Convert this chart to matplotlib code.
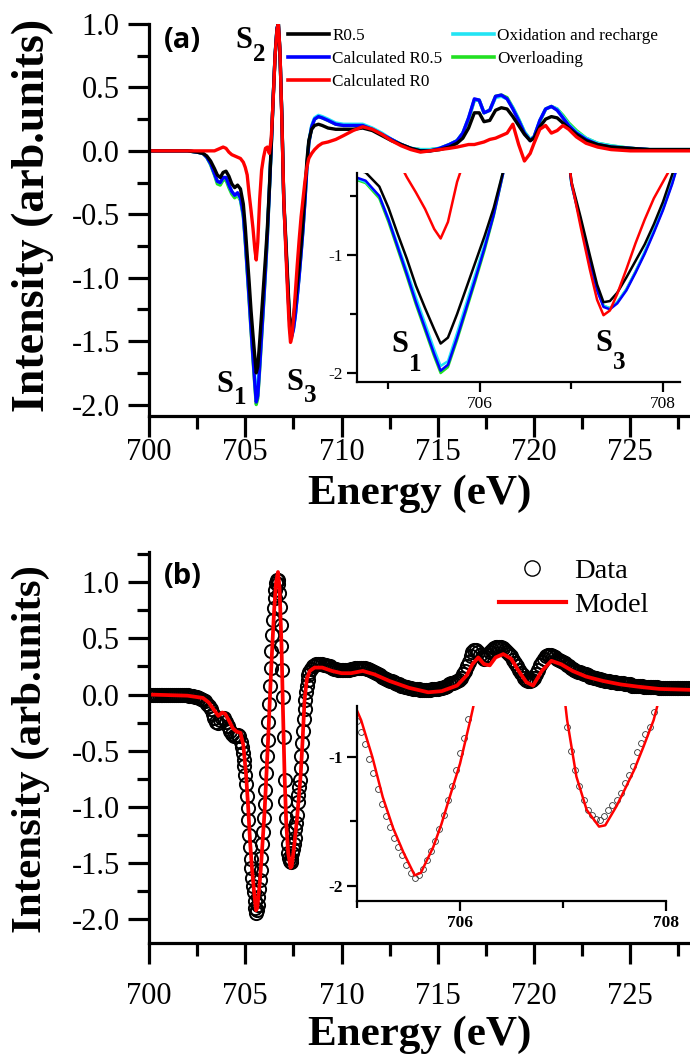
import matplotlib
matplotlib.use('Agg')
import matplotlib.pyplot as plt
from matplotlib.ticker import MultipleLocator, FormatStrFormatter
from matplotlib.lines import Line2D

plt.rcParams['font.family'] = ['Liberation Serif', 'DejaVu Serif']
plt.rcParams['axes.unicode_minus'] = False

# ---------------- Panel (a) data ----------------
energy_a = [700.0, 701.0, 702.0, 702.5, 702.8, 703.0, 703.2, 703.4, 703.55, 703.7,
            703.85, 704.0, 704.15, 704.3, 704.45, 704.6, 704.75, 704.9, 705.0, 705.1,
            705.2, 705.3, 705.4, 705.5, 705.57, 705.65, 705.75, 705.85, 705.95, 706.05,
            706.15, 706.25, 706.35, 706.45, 706.55, 706.65, 706.72, 706.8, 706.9, 707.0,
            707.1, 707.2, 707.28, 707.35, 707.42, 707.5, 707.6, 707.7, 707.8, 707.9,
            708.0, 708.1, 708.2, 708.3, 708.45, 708.6, 708.8, 709.0, 709.3, 709.7,
            710.1, 710.6, 711.1, 711.6, 712.1, 712.6, 713.1, 713.6, 714.1, 714.6,
            715.1, 715.6, 716.0, 716.3, 716.6, 716.9, 717.15, 717.4, 717.7, 718.0,
            718.3, 718.6, 718.9, 719.2, 719.5, 719.8, 720.0, 720.3, 720.6, 720.9,
            721.2, 721.5, 721.8, 722.2, 722.7, 723.3, 724.0, 725.0, 726.0, 727.0,
            728.5]

r05 = [0.00, 0.00, 0.00, -0.01, -0.02, -0.04, -0.08, -0.14, -0.19, -0.21,
       -0.17, -0.16, -0.20, -0.26, -0.29, -0.27, -0.30, -0.42, -0.60, -0.82,
       -1.03, -1.26, -1.45, -1.63, -1.75, -1.70, -1.50, -1.28, -1.06, -0.84,
       -0.60, -0.30, 0.05, 0.42, 0.75, 0.96, 1.00, 0.78, 0.28, -0.38,
       -0.68, -1.00, -1.25, -1.40, -1.39, -1.32, -1.19, -1.05, -0.91, -0.74,
       -0.55, -0.32, -0.08, 0.08, 0.17, 0.20, 0.21, 0.20, 0.18, 0.17,
       0.17, 0.17, 0.18, 0.16, 0.12, 0.08, 0.05, 0.02, 0.00, 0.00,
       0.01, 0.03, 0.06, 0.10, 0.18, 0.30, 0.30, 0.23, 0.24, 0.32,
       0.34, 0.33, 0.27, 0.20, 0.13, 0.08, 0.10, 0.19, 0.25, 0.27,
       0.26, 0.22, 0.18, 0.13, 0.08, 0.05, 0.03, 0.02, 0.01, 0.01,
       0.01]

calc_r05 = [0.00, 0.00, 0.00, -0.01, -0.02, -0.05, -0.10, -0.18, -0.24, -0.25,
            -0.21, -0.21, -0.27, -0.32, -0.35, -0.33, -0.37, -0.50, -0.70, -0.93,
            -1.16, -1.40, -1.62, -1.84, -1.98, -1.93, -1.70, -1.45, -1.20, -0.94,
            -0.66, -0.32, 0.03, 0.42, 0.76, 0.97, 1.00, 0.79, 0.27, -0.40,
            -0.72, -1.05, -1.30, -1.44, -1.46, -1.41, -1.30, -1.15, -0.99, -0.81,
            -0.62, -0.40, -0.14, 0.06, 0.19, 0.25, 0.27, 0.26, 0.24, 0.21,
            0.20, 0.20, 0.20, 0.17, 0.13, 0.09, 0.05, 0.02, 0.00, 0.00,
            0.02, 0.05, 0.08, 0.14, 0.26, 0.41, 0.40, 0.30, 0.32, 0.43,
            0.44, 0.41, 0.33, 0.24, 0.14, 0.08, 0.11, 0.24, 0.33, 0.35,
            0.32, 0.26, 0.20, 0.14, 0.09, 0.05, 0.03, 0.02, 0.01, 0.01,
            0.01]

calc_r0 = [0.00, 0.00, 0.00, 0.00, 0.00, 0.00, 0.00, 0.00, 0.01, 0.02,
           0.03, 0.02, -0.01, -0.03, -0.04, -0.05, -0.06, -0.09, -0.13, -0.19,
           -0.34, -0.47, -0.61, -0.78, -0.86, -0.72, -0.38, -0.15, -0.05, 0.02,
           0.03, -0.02, 0.10, 0.40, 0.75, 0.96, 1.00, 0.80, 0.25, -0.38,
           -0.76, -1.12, -1.38, -1.51, -1.47, -1.33, -1.12, -0.90, -0.70, -0.52,
           -0.38, -0.24, -0.13, -0.06, -0.02, 0.01, 0.04, 0.06, 0.07, 0.09,
           0.12, 0.16, 0.19, 0.17, 0.13, 0.08, 0.04, 0.01, -0.01, 0.00,
           0.01, 0.02, 0.03, 0.04, 0.05, 0.05, 0.06, 0.07, 0.09, 0.10,
           0.12, 0.14, 0.21, 0.05, -0.08, -0.02, 0.06, 0.17, 0.20, 0.14,
           0.16, 0.20, 0.17, 0.11, 0.06, 0.03, 0.01, 0.00, 0.00, 0.00,
           0.00]

oxidation = [0.00, 0.00, 0.00, -0.01, -0.02, -0.05, -0.10, -0.18, -0.24, -0.25,
             -0.21, -0.21, -0.27, -0.32, -0.35, -0.34, -0.38, -0.50, -0.69, -0.91,
             -1.13, -1.36, -1.58, -1.80, -1.94, -1.90, -1.66, -1.41, -1.16, -0.91,
             -0.63, -0.30, 0.04, 0.42, 0.76, 0.97, 1.00, 0.79, 0.27, -0.40,
             -0.72, -1.05, -1.29, -1.43, -1.45, -1.40, -1.29, -1.14, -0.97, -0.79,
             -0.60, -0.38, -0.12, 0.07, 0.20, 0.26, 0.28, 0.27, 0.25, 0.22,
             0.21, 0.21, 0.21, 0.18, 0.14, 0.09, 0.05, 0.02, 0.01, 0.01,
             0.02, 0.05, 0.08, 0.14, 0.26, 0.40, 0.40, 0.30, 0.32, 0.42,
             0.43, 0.41, 0.34, 0.25, 0.15, 0.09, 0.11, 0.24, 0.33, 0.35,
             0.33, 0.27, 0.21, 0.15, 0.10, 0.06, 0.04, 0.02, 0.01, 0.01,
             0.01]

overloading = [0.00, 0.00, 0.00, -0.01, -0.02, -0.05, -0.11, -0.19, -0.26, -0.27,
               -0.23, -0.23, -0.29, -0.34, -0.37, -0.35, -0.39, -0.52, -0.72, -0.95,
               -1.18, -1.42, -1.64, -1.86, -2.00, -1.95, -1.72, -1.47, -1.22, -0.96,
               -0.67, -0.32, 0.03, 0.42, 0.76, 0.97, 1.00, 0.79, 0.27, -0.40,
               -0.71, -1.04, -1.29, -1.43, -1.45, -1.40, -1.29, -1.14, -0.98, -0.80,
               -0.61, -0.39, -0.13, 0.06, 0.19, 0.25, 0.27, 0.26, 0.24, 0.21,
               0.20, 0.20, 0.20, 0.17, 0.13, 0.09, 0.05, 0.02, 0.01, 0.01,
               0.02, 0.05, 0.08, 0.14, 0.25, 0.40, 0.40, 0.30, 0.32, 0.43,
               0.44, 0.42, 0.34, 0.25, 0.15, 0.09, 0.11, 0.23, 0.33, 0.35,
               0.33, 0.28, 0.22, 0.16, 0.10, 0.06, 0.04, 0.02, 0.01, 0.01,
               0.01]

labels_a = ['R0.5', 'Calculated R0.5', 'Calculated R0',
            'Oxidation and recharge', 'Overloading']

# ---------------- Panel (b) data ----------------
model_energy = [700.0, 702.0, 702.8, 703.1, 703.35, 703.6, 703.8, 703.95, 704.15, 704.35,
                704.55, 704.75, 704.9, 705.04, 705.15, 705.25, 705.35, 705.45, 705.56, 705.62,
                705.74, 705.82, 705.9, 706.0, 706.1, 706.2, 706.3, 706.4, 706.5, 706.6,
                706.7, 706.78, 706.88, 706.96, 707.04, 707.13, 707.23, 707.35, 707.41, 707.52,
                707.6, 707.69, 707.78, 707.88, 707.98, 708.08, 708.2, 708.35, 708.6, 709.0,
                709.5, 710.0, 710.5, 711.1, 711.7, 712.5, 713.5, 714.5, 715.2, 716.0,
                716.5, 716.8, 717.1, 717.4, 717.7, 718.0, 718.4, 718.8, 719.2, 719.6,
                719.95, 720.4, 720.9, 721.4, 722.0, 722.7, 723.6, 724.5, 725.4, 726.5,
                728.5]
model_int = [0.00, -0.01, -0.03, -0.07, -0.13, -0.19, -0.16, -0.17, -0.23, -0.30,
             -0.33, -0.34, -0.45, -0.71, -1.00, -1.31, -1.55, -1.74, -1.92, -1.90,
             -1.70, -1.52, -1.31, -1.05, -0.71, -0.35, 0.05, 0.42, 0.75, 1.00,
             1.09, 0.95, 0.45, -0.15, -0.71, -1.15, -1.41, -1.54, -1.53, -1.38,
             -1.25, -1.10, -0.92, -0.71, -0.40, -0.05, 0.14, 0.21, 0.24, 0.24,
             0.21, 0.19, 0.19, 0.21, 0.18, 0.12, 0.06, 0.02, 0.03, 0.08,
             0.17, 0.27, 0.33, 0.27, 0.26, 0.33, 0.36, 0.32, 0.21, 0.11,
             0.08, 0.21, 0.30, 0.27, 0.21, 0.16, 0.12, 0.09, 0.07, 0.05,
             0.04]

data_energy_pre = [700.0, 700.1, 700.2, 700.3, 700.4, 700.5, 700.6, 700.7, 700.8, 700.9,
                   701.0, 701.1, 701.2, 701.3, 701.4, 701.5, 701.6, 701.7, 701.8, 701.9,
                   702.0, 702.1, 702.2, 702.3, 702.4, 702.5, 702.6, 702.7, 702.8, 702.9,
                   703.0, 703.1, 703.2, 703.3, 703.4, 703.5, 703.6, 703.7, 703.8, 703.9,
                   704.0, 704.1, 704.2, 704.3, 704.4, 704.5, 704.6, 704.7, 704.8]
data_int_pre = [0.00, 0.00, 0.00, 0.00, 0.00, 0.00, 0.00, 0.00, 0.00, 0.00,
                0.00, 0.00, 0.00, 0.00, 0.00, 0.00, 0.00, 0.00, 0.00, 0.00,
                0.00, -0.01, -0.01, -0.01, -0.02, -0.02, -0.03, -0.04, -0.05, -0.06,
                -0.08, -0.10, -0.13, -0.17, -0.21, -0.24, -0.25, -0.23, -0.21, -0.21,
                -0.24, -0.28, -0.32, -0.35, -0.37, -0.37, -0.36, -0.37, -0.42]

data_energy_edge = [704.84, 704.88, 704.92, 704.96, 705.00, 705.04, 705.08, 705.12, 705.16, 705.20,
                    705.24, 705.28, 705.32, 705.36, 705.40, 705.44, 705.48, 705.52, 705.56, 705.60,
                    705.64, 705.68, 705.72, 705.76, 705.80, 705.84, 705.88, 705.92, 705.96, 706.00,
                    706.04, 706.08, 706.12, 706.16, 706.20, 706.24, 706.28, 706.32, 706.36, 706.40,
                    706.44, 706.48, 706.52, 706.56, 706.60, 706.64, 706.68, 706.72, 706.76, 706.80,
                    706.84, 706.88, 706.92, 706.96, 707.00, 707.04, 707.08, 707.12, 707.16, 707.20,
                    707.24, 707.28, 707.32, 707.36, 707.40, 707.44, 707.48, 707.52, 707.56, 707.60,
                    707.64, 707.68, 707.72, 707.76, 707.80, 707.84, 707.88, 707.92, 707.96, 708.00,
                    708.04, 708.08, 708.12, 708.16, 708.20, 708.24, 708.28, 708.32]
data_int_edge = [-0.47, -0.52, -0.58, -0.64, -0.72, -0.80, -0.90, -1.01, -1.12, -1.25,
                 -1.36, -1.46, -1.54, -1.63, -1.70, -1.76, -1.84, -1.90, -1.94, -1.92,
                 -1.87, -1.80, -1.73, -1.65, -1.56, -1.45, -1.33, -1.22, -1.10, -0.97,
                 -0.85, -0.70, -0.55, -0.40, -0.24, -0.08, 0.08, 0.24, 0.39, 0.53,
                 0.66, 0.77, 0.86, 0.93, 0.99, 1.02, 1.02, 0.98, 0.90, 0.78,
                 0.62, 0.43, 0.22, -0.02, -0.38, -0.76, -0.95, -1.10, -1.22, -1.33,
                 -1.41, -1.45, -1.48, -1.49, -1.46, -1.41, -1.37, -1.33, -1.28, -1.20,
                 -1.14, -1.07, -0.96, -0.89, -0.82, -0.76, -0.65, -0.55, -0.43, -0.32,
                 -0.22, -0.13, -0.05, 0.02, 0.08, 0.13, 0.17, 0.20]

data_energy_post = [708.4, 708.5, 708.6, 708.7, 708.8, 708.9, 709.0, 709.1, 709.2, 709.3,
                    709.4, 709.5, 709.6, 709.7, 709.8, 709.9, 710.0, 710.1, 710.2, 710.3,
                    710.4, 710.5, 710.6, 710.7, 710.8, 710.9, 711.0, 711.1, 711.2, 711.3,
                    711.4, 711.5, 711.6, 711.7, 711.8, 711.9, 712.0, 712.1, 712.2, 712.3,
                    712.4, 712.5, 712.6, 712.7, 712.8, 712.9, 713.0, 713.1, 713.2, 713.3,
                    713.4, 713.5, 713.6, 713.7, 713.8, 713.9, 714.0, 714.1, 714.2, 714.3,
                    714.4, 714.5, 714.6, 714.7, 714.8, 714.9, 715.0, 715.1, 715.2, 715.3,
                    715.4, 715.5, 715.6, 715.7, 715.8, 715.9, 716.0, 716.1, 716.2, 716.3,
                    716.4, 716.5, 716.6, 716.7, 716.8, 716.9, 717.0, 717.1, 717.2, 717.3,
                    717.4, 717.5, 717.6, 717.7, 717.8, 717.9, 718.0, 718.1, 718.2, 718.3,
                    718.4, 718.5, 718.6, 718.7, 718.8, 718.9, 719.0, 719.1, 719.2, 719.3,
                    719.4, 719.5, 719.6, 719.7, 719.8, 719.9, 720.0, 720.1, 720.2, 720.3,
                    720.4, 720.5, 720.6, 720.7, 720.8, 720.9, 721.0, 721.1, 721.2, 721.3,
                    721.4, 721.5, 721.6, 721.7, 721.8, 721.9, 722.0, 722.1, 722.2, 722.3,
                    722.4, 722.5, 722.6, 722.7, 722.8, 722.9, 723.0, 723.1, 723.2, 723.3,
                    723.4, 723.5, 723.6, 723.7, 723.8, 723.9, 724.0, 724.1, 724.2, 724.3,
                    724.4, 724.5, 724.6, 724.7, 724.8, 724.9, 725.0, 725.1, 725.2, 725.3,
                    725.4, 725.5, 725.6, 725.7, 725.8, 725.9, 726.0, 726.1, 726.2, 726.3,
                    726.4, 726.5, 726.6, 726.7, 726.8, 726.9, 727.0, 727.1, 727.2, 727.3,
                    727.4, 727.5, 727.6, 727.7, 727.8, 727.9, 728.0, 728.1, 728.2, 728.3,
                    728.4]
data_int_post = [0.23, 0.25, 0.26, 0.27, 0.27, 0.27, 0.27, 0.26, 0.26, 0.25,
                 0.25, 0.24, 0.23, 0.23, 0.22, 0.22, 0.22, 0.22, 0.22, 0.22,
                 0.22, 0.23, 0.23, 0.24, 0.24, 0.24, 0.24, 0.24, 0.24, 0.23,
                 0.23, 0.22, 0.21, 0.20, 0.19, 0.18, 0.17, 0.16, 0.15, 0.14,
                 0.13, 0.12, 0.12, 0.11, 0.10, 0.09, 0.09, 0.08, 0.08, 0.07,
                 0.07, 0.06, 0.06, 0.05, 0.05, 0.05, 0.05, 0.04, 0.04, 0.04,
                 0.04, 0.04, 0.04, 0.05, 0.05, 0.05, 0.05, 0.06, 0.06, 0.07,
                 0.07, 0.08, 0.09, 0.10, 0.10, 0.11, 0.12, 0.13, 0.15, 0.18,
                 0.21, 0.25, 0.29, 0.34, 0.38, 0.40, 0.40, 0.38, 0.35, 0.33,
                 0.32, 0.33, 0.35, 0.38, 0.40, 0.41, 0.42, 0.42, 0.42, 0.42,
                 0.41, 0.40, 0.38, 0.36, 0.34, 0.31, 0.28, 0.25, 0.22, 0.19,
                 0.17, 0.15, 0.13, 0.12, 0.12, 0.13, 0.15, 0.18, 0.22, 0.26,
                 0.29, 0.32, 0.34, 0.35, 0.35, 0.35, 0.34, 0.33, 0.32, 0.31,
                 0.30, 0.29, 0.28, 0.26, 0.25, 0.24, 0.23, 0.22, 0.21, 0.20,
                 0.20, 0.19, 0.18, 0.18, 0.17, 0.16, 0.16, 0.15, 0.15, 0.14,
                 0.14, 0.13, 0.13, 0.12, 0.12, 0.12, 0.11, 0.11, 0.11, 0.10,
                 0.10, 0.10, 0.10, 0.09, 0.09, 0.09, 0.09, 0.08, 0.08, 0.08,
                 0.08, 0.08, 0.08, 0.07, 0.07, 0.07, 0.07, 0.07, 0.07, 0.07,
                 0.07, 0.06, 0.06, 0.06, 0.06, 0.06, 0.06, 0.06, 0.06, 0.06,
                 0.06, 0.06, 0.06, 0.06, 0.06, 0.06, 0.06, 0.06, 0.06, 0.06,
                 0.06]

data_energy = data_energy_pre + data_energy_edge + data_energy_post
data_int = data_int_pre + data_int_edge + data_int_post
labels_b = ['Data', 'Model']

# ---------------- Layout helpers ----------------
W, H = 690, 1057
fig = plt.figure(figsize=(W / 100, H / 100), dpi=100)


def rect(l, t, r, b):
    return [l / W, 1 - b / H, (r - l) / W, (b - t) / H]


def fpos(x, y):
    return (x / W, 1 - y / H)


BLACK, BLUE, RED = '#000000', '#0000ff', '#ff0000'
CYAN, GREEN = '#22e4f4', '#22e022'
SPW = 2.3


def style_main(ax, xlim, ylim, pad):
    ax.set_xlim(*xlim)
    ax.set_ylim(*ylim)
    ax.patch.set_alpha(0)
    for s in ('top', 'right'):
        ax.spines[s].set_visible(False)
    for s in ('left', 'bottom'):
        ax.spines[s].set_linewidth(SPW)
    ax.xaxis.set_major_locator(MultipleLocator(5))
    ax.xaxis.set_minor_locator(MultipleLocator(2.5))
    ax.yaxis.set_major_locator(MultipleLocator(0.5))
    ax.yaxis.set_minor_locator(MultipleLocator(0.25))
    ax.xaxis.set_major_formatter(FormatStrFormatter('%d'))
    ax.yaxis.set_major_formatter(FormatStrFormatter('%.1f'))
    ax.tick_params(which='major', direction='out', length=15, width=SPW,
                   labelsize=22, pad=6)
    ax.tick_params(which='minor', direction='out', length=9, width=SPW)
    ax.tick_params(axis='x', which='major', pad=pad)


def style_inset(ax, xlim, ylim, bold):
    ax.set_xlim(*xlim)
    ax.set_ylim(*ylim)
    ax.set_facecolor('none')
    for s in ('top', 'right'):
        ax.spines[s].set_visible(False)
    for s in ('left', 'bottom'):
        ax.spines[s].set_linewidth(1.6)
    ax.xaxis.set_major_locator(MultipleLocator(2))
    ax.xaxis.set_minor_locator(MultipleLocator(1))
    ax.yaxis.set_major_locator(MultipleLocator(1))
    ax.yaxis.set_minor_locator(MultipleLocator(0.5))
    ax.xaxis.set_major_formatter(FormatStrFormatter('%d'))
    ax.yaxis.set_major_formatter(FormatStrFormatter('%d'))
    ax.tick_params(which='major', direction='out', length=7, width=1.6,
                   labelsize=12.5, pad=3)
    ax.tick_params(which='minor', direction='out', length=5, width=1.6)
    if bold:
        for t in ax.get_xticklabels() + ax.get_yticklabels():
            t.set_fontweight('bold')


def s_label(sx, sy, bx, by, sub, size=22, subsize=18):
    fig.text(*fpos(sx, sy), 'S', fontsize=size, fontweight='bold',
             ha='left', va='baseline')
    fig.text(*fpos(bx, by), sub, fontsize=subsize, fontweight='bold',
             ha='left', va='baseline')


# ---------------- Panel (a) ----------------
axA = fig.add_axes(rect(149, 24, 690, 416))
style_main(axA, (700, 728.1), (-2.09, 1.0), pad=1)
series_a = [(overloading, GREEN), (oxidation, CYAN), (calc_r05, BLUE),
            (r05, BLACK), (calc_r0, RED)]
for ys, c in series_a:
    axA.plot(energy_a, ys, color=c, lw=2.4, solid_joinstyle='round')

handles_a = [Line2D([], [], color=c, lw=2.6) for c in (BLACK, BLUE, RED, CYAN, GREEN)]
axA.legend(handles_a, labels_a, ncol=2, loc='upper left',
           bbox_to_anchor=fpos(288, 28), bbox_transform=fig.transFigure,
           frameon=False, fontsize=12.3, handlelength=2.4, handletextpad=0.2,
           columnspacing=0.6, labelspacing=0.4, borderpad=0, borderaxespad=0)

fig.text(*fpos(182, 40), '(a)', fontsize=21, fontweight='bold',
         family='Open Sans', ha='center', va='center')
s_label(235, 48, 253, 61, '2')
s_label(216, 392, 234, 404, '1')
s_label(286, 390, 304, 402, '3')

insA = fig.add_axes(rect(357, 173, 680, 382))
style_inset(insA, (704.656, 708.186), (-2.076, -0.305), bold=False)
for ys, c in series_a:
    insA.plot(energy_a, ys, color=c, lw=1.8, solid_joinstyle='round')
s_label(391, 352, 409, 371, '1')
s_label(595, 351, 613, 369, '3')

fig.text(*fpos(33, 215), 'Intensity (arb.units)', fontsize=33, fontweight='bold',
         rotation=90, ha='center', va='center')
fig.text(*fpos(420, 494), 'Energy (eV)', fontsize=31, fontweight='bold',
         ha='center', va='center')

# ---------------- Panel (b) ----------------
axB = fig.add_axes(rect(149, 552, 690, 943))
style_main(axB, (700, 728.1), (-2.21, 1.268), pad=13)
axB.plot(data_energy, data_int, ls='none', marker='o', ms=9.5, mfc='none',
         mec='black', mew=1.4)
axB.plot(model_energy, model_int, color=RED, lw=2.7, solid_joinstyle='round')

handles_b = [Line2D([], [], ls='none', marker='o', ms=11, mfc='none', mec='black', mew=1.0),
             Line2D([], [], color=RED, lw=3)]
axB.legend(handles_b, labels_b, loc='upper left',
           bbox_to_anchor=fpos(499, 558), bbox_transform=fig.transFigure,
           frameon=False, fontsize=20.5, handlelength=2.35, handletextpad=0.3,
           labelspacing=0.3, borderpad=0, borderaxespad=0)

fig.text(*fpos(183, 577), '(b)', fontsize=21, fontweight='bold',
         family='Open Sans', ha='center', va='center')

insB = fig.add_axes(rect(357, 706, 666, 901))
style_inset(insB, (705, 708), (-2.12, -0.6), bold=True)
insB.plot(data_energy, data_int, ls='none', marker='o', ms=4.2, mfc='none',
          mec='#333333', mew=0.6)
insB.plot(model_energy, model_int, color=RED, lw=1.8, solid_joinstyle='round')

fig.text(*fpos(31, 749), 'Intensity (arb.units)', fontsize=31, fontweight='bold',
         rotation=90, ha='center', va='center')
fig.text(*fpos(420, 1035), 'Energy (eV)', fontsize=31, fontweight='bold',
         ha='center', va='center')

fig.savefig('out.png', dpi=100)
